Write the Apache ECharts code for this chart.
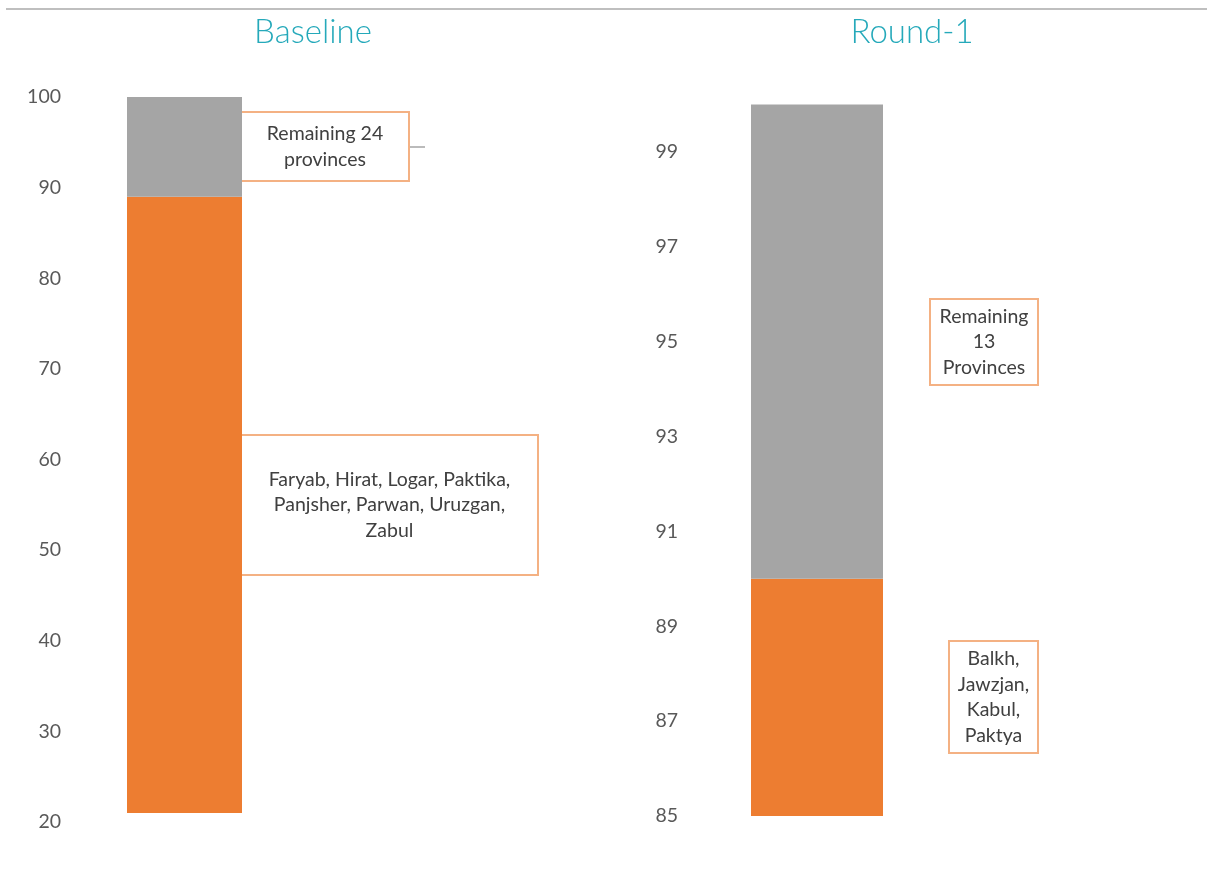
<!DOCTYPE html>
<html><head><meta charset="utf-8">
<script src="https://cdn.jsdelivr.net/npm/echarts@6/dist/echarts.min.js"></script>
<style>html,body{margin:0;padding:0;background:#fff}#c{width:1207px;height:869px}</style>
</head><body><div id="c"></div>
<script>
const titles = ['Baseline', 'Round-1'];
const categories = ['Share'];
// Baseline panel (stacked): invisible base, 8 listed provinces, remaining 24 provinces
const baseBase = [21];
const baseListed = [68];
const baseRemaining = [11];
// Round-1 panel (stacked): 4 listed provinces, remaining 13 provinces
const r1Listed = [90];
const r1Remaining = [10];
// axes
const baseAxis = {min: 20, max: 100, interval: 10};
const r1Axis = {min: 85, max: 100, interval: 1, labelStep: 2};
const notes = [
  'Remaining 24\nprovinces',
  'Faryab, Hirat, Logar, Paktika,\nPanjsher, Parwan, Uruzgan,\nZabul',
  'Remaining\n13\nProvinces',
  'Balkh,\nJawzjan,\nKabul,\nPaktya'
];

const ORANGE = '#ED7D31', GREY = '#A5A5A5', TXT = '#595959', NOTE = '#404040', BORDER = '#F4B183';
const FONT = 'Lato, "Open Sans", sans-serif';

function box(x1, y1, x2, y2, text) {
  return {
    type: 'group',
    children: [
      {type: 'rect', shape: {x: x1, y: y1, width: x2 - x1, height: y2 - y1},
       style: {fill: '#fff', stroke: BORDER, lineWidth: 2}},
      {type: 'text', x: (x1 + x2) / 2, y: (y1 + y2) / 2,
       style: {text: text, fill: NOTE, font: '19.5px ' + FONT, align: 'center', verticalAlign: 'middle', lineHeight: 25.5}}
    ]
  };
}

const chart = echarts.init(document.getElementById('c'), null, {renderer: 'canvas'});
chart.setOption({
  animation: false,
  backgroundColor: '#fff',
  title: [
    {text: titles[0], left: 308, top: 11, textAlign: 'center',
     textStyle: {color: '#25A9BA', fontSize: 33, fontWeight: 300, fontFamily: FONT}},
    {text: titles[1], left: 907, top: 11, textAlign: 'center',
     textStyle: {color: '#25A9BA', fontSize: 33, fontWeight: 300, fontFamily: FONT}}
  ],
  grid: [
    {left: 70, width: 229, top: 97, height: 725},
    {left: 688, width: 258, top: 104.5, height: 711.5}
  ],
  xAxis: [
    {type: 'category', gridIndex: 0, data: categories, show: false},
    {type: 'category', gridIndex: 1, data: categories, show: false}
  ],
  yAxis: [
    {type: 'value', gridIndex: 0, min: baseAxis.min, max: baseAxis.max, interval: baseAxis.interval,
     axisLine: {show: false}, axisTick: {show: false}, splitLine: {show: false},
     axisLabel: {color: TXT, fontSize: 19.5, fontFamily: FONT, margin: 9}},
    {type: 'value', gridIndex: 1, min: r1Axis.min, max: r1Axis.max, interval: r1Axis.interval,
     axisLine: {show: false}, axisTick: {show: false}, splitLine: {show: false},
     axisLabel: {color: TXT, fontSize: 19.5, fontFamily: FONT, margin: 10,
       formatter: v => ((v - r1Axis.min) % r1Axis.labelStep === 0 && v < r1Axis.max) ? String(v) : ''}}
  ],
  series: [
    {type: 'bar', xAxisIndex: 0, yAxisIndex: 0, stack: 'a', data: baseBase, barWidth: 115,
     itemStyle: {color: 'rgba(0,0,0,0)'}, silent: true},
    {type: 'bar', xAxisIndex: 0, yAxisIndex: 0, stack: 'a', data: baseListed, barWidth: 115,
     itemStyle: {color: ORANGE}},
    {type: 'bar', xAxisIndex: 0, yAxisIndex: 0, stack: 'a', data: baseRemaining, barWidth: 115,
     itemStyle: {color: GREY}},
    {type: 'bar', xAxisIndex: 1, yAxisIndex: 1, stack: 'b', data: r1Listed, barWidth: 132,
     itemStyle: {color: ORANGE}},
    {type: 'bar', xAxisIndex: 1, yAxisIndex: 1, stack: 'b', data: r1Remaining, barWidth: 132,
     itemStyle: {color: GREY}}
  ],
  graphic: [
    {type: 'line', shape: {x1: 6, y1: 9, x2: 1207, y2: 9}, style: {stroke: '#BFBFBF', lineWidth: 2}},
    {type: 'line', shape: {x1: 409, y1: 147, x2: 425, y2: 147}, style: {stroke: '#A5A5A5', lineWidth: 1.5}},
    box(241, 112, 409, 181, notes[0]),
    box(241, 435, 538, 575, notes[1]),
    box(930, 299, 1038, 385, notes[2]),
    box(949, 641, 1038, 753, notes[3])
  ]
});
</script></body></html>
